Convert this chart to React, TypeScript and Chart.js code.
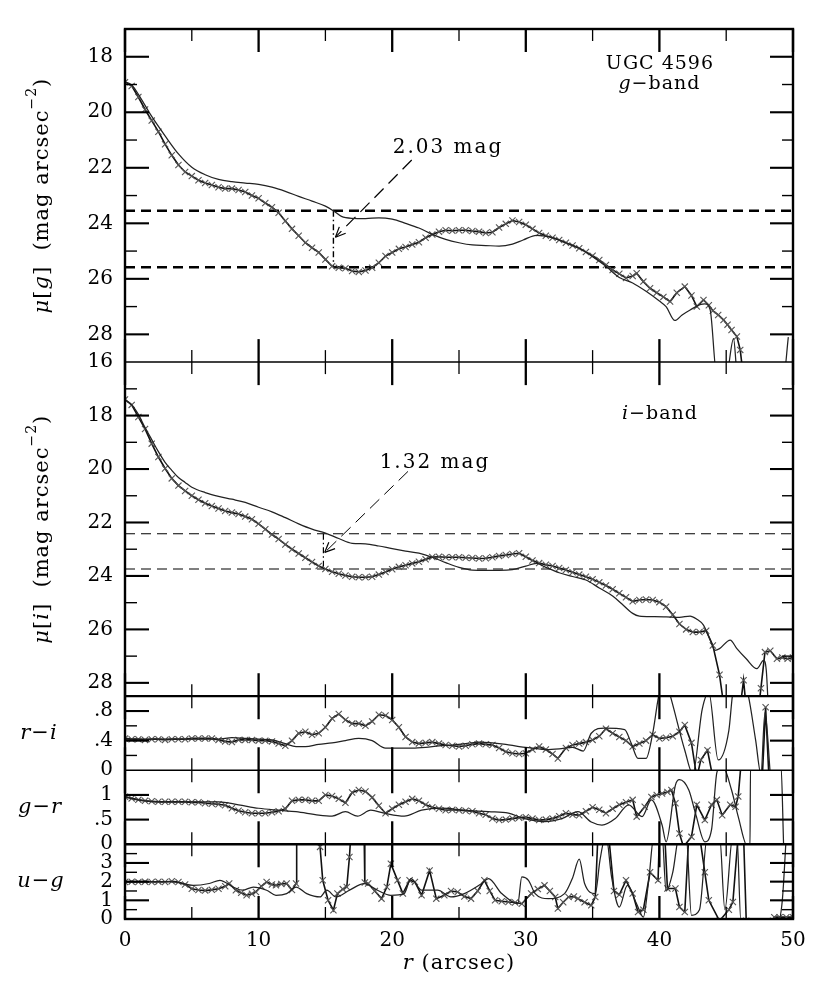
import React, { useEffect, useRef } from 'react';
import { Chart, registerables } from 'chart.js';

Chart.register(...registerables);

type Pt = [number, number];

const FONT = '"DejaVu Serif", "Liberation Serif", serif';

// ---------------- data (r in arcsec, value) ----------------
// g-band: model with crosses, and plain profile
const gCrossed: Pt[] = [[0,18.92],[0.5,19.05],[1,19.45],[1.5,19.9],[2,20.3],[2.5,20.7],[3,21.15],[3.5,21.55],[4,21.9],[4.5,22.15],[5,22.3],[5.5,22.45],[6,22.55],[6.5,22.62],[7,22.7],[7.5,22.75],[8,22.75],[8.5,22.8],[9,22.87],[9.5,23.0],[10,23.1],[10.5,23.27],[11,23.42],[11.5,23.62],[12,23.92],[12.5,24.2],[13,24.45],[13.5,24.7],[14,24.88],[14.5,25.05],[15,25.3],[15.5,25.55],[16,25.6],[16.5,25.62],[17,25.72],[17.5,25.75],[18,25.7],[18.5,25.6],[19,25.42],[19.5,25.18],[20,25.05],[20.5,24.92],[21,24.85],[21.5,24.76],[22,24.68],[22.5,24.52],[23,24.4],[23.5,24.3],[24,24.25],[24.5,24.27],[25,24.25],[25.5,24.25],[26,24.28],[26.5,24.3],[27,24.35],[27.5,24.32],[28,24.15],[28.5,24.02],[29,23.9],[29.5,23.95],[30,24.05],[30.5,24.2],[31,24.35],[31.5,24.45],[32,24.52],[32.5,24.6],[33,24.7],[33.5,24.8],[34,24.9],[34.5,25.03],[35,25.17],[35.5,25.32],[36,25.5],[36.5,25.68],[37,25.82],[37.5,25.97],[38,25.9],[38.3,25.8],[38.8,26.1],[39.3,26.34],[39.8,26.5],[40.3,26.65],[40.8,26.82],[41.3,26.5],[41.9,26.28],[42.4,26.6],[42.8,27.0],[43.3,26.76],[43.7,26.95],[44.0,27.15],[44.4,27.3],[44.8,27.48],[45.1,27.65],[45.4,27.84],[45.8,28.08],[46.05,28.56],[46.4,30]];
const gPlain: Pt[] = [[0,18.9],[0.5,19.02],[1,19.35],[1.5,19.75],[2,20.15],[3,20.85],[4,21.5],[5,21.98],[6,22.25],[7,22.42],[8,22.5],[9,22.55],[10,22.6],[11,22.7],[12,22.85],[13,23.03],[14,23.2],[15,23.38],[15.6,23.55],[16.2,23.75],[17,23.82],[18,23.83],[19,23.8],[20,23.85],[21,24.0],[22,24.17],[23,24.4],[24,24.58],[25,24.7],[26,24.78],[27,24.8],[28,24.82],[29,24.75],[29.8,24.6],[30.8,24.43],[31.8,24.49],[33,24.7],[34,24.9],[35,25.2],[36,25.55],[37,25.95],[38,26.15],[39,26.45],[40,26.8],[40.5,27.0],[41.16,27.5],[41.7,27.3],[42.3,27.12],[43.1,26.92],[43.4,26.9],[43.8,27.12],[44.3,29.5],[45.0,29.5],[45.55,28.15],[45.85,29.5],[49.3,29.5],[49.65,28.1]];

// i-band
const iCrossed: Pt[] = [[0,17.4],[0.5,17.6],[1,18.05],[1.5,18.5],[2,19.05],[2.5,19.55],[3,19.98],[3.5,20.35],[4,20.62],[4.5,20.82],[5,21.0],[5.5,21.15],[6,21.28],[6.5,21.38],[7,21.48],[7.5,21.57],[8,21.63],[8.5,21.68],[9,21.78],[9.5,21.88],[10,22.05],[10.5,22.25],[11,22.45],[11.5,22.62],[12,22.82],[12.5,23.0],[13,23.16],[13.5,23.32],[14,23.48],[14.5,23.63],[15,23.74],[15.5,23.84],[16,23.92],[16.5,23.98],[17,24.03],[17.5,24.05],[18,24.05],[18.5,24.03],[19,23.95],[19.5,23.85],[20,23.75],[20.5,23.66],[21,23.6],[21.5,23.53],[22,23.47],[22.5,23.38],[23,23.29],[23.5,23.28],[24,23.3],[24.5,23.3],[25,23.3],[25.5,23.32],[26,23.33],[26.5,23.35],[27,23.34],[27.5,23.3],[28,23.25],[28.5,23.22],[29,23.18],[29.5,23.15],[30,23.28],[30.5,23.42],[31,23.52],[31.5,23.58],[32,23.63],[32.5,23.7],[33,23.78],[33.5,23.86],[34,23.95],[34.5,24.03],[35,24.12],[35.5,24.24],[36,24.36],[36.5,24.5],[37,24.65],[37.5,24.8],[38,24.95],[38.5,24.9],[39,24.88],[39.5,24.9],[40,24.98],[40.5,25.15],[41,25.45],[41.5,25.8],[42,26.0],[42.5,26.1],[43,26.1],[43.5,26.05],[44,26.6],[44.5,27.7],[45,29.5],[45.9,29.5],[46.3,27.9],[46.6,29.5],[47.3,29.5],[47.6,28.2],[47.9,26.85],[48.3,26.8],[48.8,27.1],[49.2,27.05],[49.6,27.1],[50,27.05]];
const iPlain: Pt[] = [[0,17.4],[0.5,17.6],[1,17.95],[1.5,18.45],[2,18.9],[2.5,19.35],[3,19.75],[3.5,20.05],[4,20.32],[4.5,20.5],[5,20.68],[6,20.88],[7,21.02],[8,21.13],[9,21.25],[10,21.43],[11,21.6],[12,21.82],[13,22.05],[14,22.25],[15,22.4],[16,22.6],[17,22.78],[18,22.8],[19,22.88],[20,22.98],[21,23.07],[22,23.15],[23,23.3],[24,23.5],[25,23.68],[26,23.78],[27,23.79],[28,23.79],[29,23.76],[30,23.63],[30.8,23.53],[31.5,23.68],[32.5,23.88],[33.5,24.02],[34.5,24.15],[35.5,24.45],[36.5,24.75],[37.2,25.05],[38,25.4],[38.5,25.5],[39.5,25.52],[40.5,25.53],[41.5,25.55],[42.3,25.5],[42.8,25.62],[43.3,25.84],[43.8,26.4],[44.16,26.78],[44.5,26.72],[45.3,26.4],[45.8,26.72],[46.5,27.1],[47.3,27.47],[47.8,27.16],[48.0,27.53],[48.2,29.5]];

// r-i colour
const riCrossed: Pt[] = [[0,0.43],[0.5,0.42],[1,0.42],[1.5,0.41],[2,0.42],[2.5,0.42],[3,0.41],[3.5,0.42],[4,0.42],[4.5,0.42],[5,0.43],[5.5,0.43],[6,0.43],[6.5,0.43],[7,0.41],[7.5,0.39],[8,0.38],[8.5,0.41],[9,0.41],[9.5,0.41],[10,0.4],[10.5,0.4],[11,0.39],[11.5,0.36],[12,0.33],[12.5,0.4],[13,0.5],[13.5,0.52],[14,0.48],[14.5,0.5],[15,0.58],[15.5,0.7],[16,0.76],[16.5,0.68],[17,0.63],[17.5,0.63],[18,0.6],[18.5,0.66],[19,0.75],[19.5,0.74],[20,0.68],[20.5,0.58],[21,0.45],[21.5,0.38],[22,0.36],[22.5,0.37],[23,0.38],[23.5,0.36],[24,0.34],[24.5,0.33],[25,0.32],[25.5,0.33],[26,0.35],[26.5,0.36],[27,0.35],[27.5,0.34],[28,0.3],[28.5,0.25],[29,0.23],[29.5,0.22],[30,0.23],[30.5,0.28],[31,0.32],[31.5,0.28],[32,0.22],[32.4,0.16],[33,0.3],[33.5,0.34],[34,0.36],[34.5,0.38],[35,0.41],[35.5,0.46],[36,0.56],[36.5,0.5],[37,0.45],[37.5,0.4],[38,0.32],[38.5,0.36],[39,0.4],[39.5,0.48],[40,0.43],[40.5,0.44],[41,0.46],[41.5,0.52],[41.9,0.61],[42.4,0.37],[42.8,-0.1],[43.1,0.14],[43.6,0.27],[44,-0.1],[47.7,-0.1],[47.95,0.85],[48.2,-0.1]];
const riPlain: Pt[] = [[0,0.42],[2,0.42],[4,0.42],[6,0.42],[7,0.42],[8,0.44],[9,0.43],[10,0.42],[11,0.41],[12,0.36],[12.8,0.32],[13.5,0.32],[14.5,0.35],[15.5,0.37],[16.5,0.4],[17.5,0.43],[18.5,0.4],[19.5,0.3],[20.5,0.3],[21.5,0.3],[22.5,0.31],[23.5,0.33],[24.5,0.34],[25.5,0.36],[26.5,0.38],[27.5,0.37],[28.5,0.35],[29.5,0.32],[30.5,0.3],[31.5,0.28],[32.5,0.29],[33.5,0.31],[34.3,0.26],[34.9,0.5],[35.9,0.57],[37.4,0.55],[37.9,0.36],[38.4,0.16],[39.0,0.16],[39.5,0.5],[40.0,1.05],[40.5,1.2],[40.9,0.95],[41.9,0.27],[42.5,-0.05],[43.2,0.82],[43.7,1.05],[44.4,0.14],[45.2,0.54],[45.5,1.05],[46.0,1.2],[46.6,1.05],[47.2,0.41],[47.6,-0.05],[47.9,0.78],[48.3,-0.05]];

// g-r colour
const grCrossed: Pt[] = [[0,0.965],[0.5,0.93],[1,0.9],[1.5,0.88],[2,0.87],[2.5,0.86],[3,0.86],[3.5,0.86],[4,0.86],[4.5,0.86],[5,0.85],[5.5,0.85],[6,0.83],[6.5,0.82],[7,0.81],[7.5,0.79],[8,0.73],[8.5,0.68],[9,0.65],[9.5,0.63],[10,0.63],[10.5,0.63],[11,0.65],[11.5,0.67],[12,0.72],[12.5,0.88],[13,0.9],[13.5,0.9],[14,0.88],[14.5,0.88],[15,1.0],[15.5,0.98],[16,0.92],[16.5,0.84],[17,1.05],[17.5,1.1],[18,1.07],[18.5,0.95],[19,0.78],[19.5,0.63],[20,0.72],[20.5,0.8],[21,0.86],[21.5,0.92],[22,0.88],[22.5,0.8],[23,0.75],[23.5,0.72],[24,0.69],[24.5,0.7],[25,0.69],[25.5,0.68],[26,0.67],[26.5,0.63],[27,0.6],[27.5,0.52],[28,0.49],[28.5,0.5],[29,0.52],[29.5,0.54],[30,0.55],[30.5,0.52],[31,0.49],[31.5,0.5],[32,0.52],[32.5,0.57],[33,0.63],[33.5,0.6],[34,0.59],[34.5,0.67],[35,0.75],[35.5,0.7],[36,0.63],[36.5,0.72],[37,0.8],[37.5,0.85],[38,0.9],[38.3,0.56],[38.9,0.76],[39.4,0.96],[39.8,1.0],[40.2,1.03],[40.6,1.06],[40.9,1.1],[41.2,0.83],[41.5,0.22],[41.8,-0.05],[42.4,0.15],[42.8,0.8],[43.4,0.49],[43.9,0.8],[44.3,0.9],[44.7,0.59],[45.3,0.8],[45.7,0.76],[45.9,0.97],[46.1,1.6]];
const grPlain: Pt[] = [[0,0.965],[1,0.9],[2.5,0.86],[4,0.86],[5.5,0.86],[7,0.86],[8.5,0.8],[10,0.73],[11.5,0.69],[12.8,0.66],[14.5,0.59],[15.5,0.57],[16.5,0.66],[17.4,0.57],[18.4,0.69],[19.4,0.63],[20.9,0.57],[22.2,0.69],[23.7,0.73],[25.4,0.69],[27.2,0.66],[28.7,0.63],[29.9,0.52],[31.4,0.46],[32.7,0.52],[33.9,0.66],[34.9,0.45],[35.7,0.39],[36.7,0.52],[37.7,0.8],[38.7,0.56],[39.4,0.9],[40.2,0.39],[40.5,0.05],[41.2,1.2],[41.5,1.31],[42.2,1.1],[42.7,0.63],[43.4,0.05],[43.9,0.29],[44.3,1.45],[44.7,1.6],[45.4,1.1],[45.9,0.56],[46.6,-0.05],[46.78,-0.05],[46.82,1.6],[49.1,1.6],[49.3,-0.05]];

// u-g colour
const ugCrossed: Pt[] = [[0,1.98],[0.5,2.0],[1,1.98],[1.5,2.0],[2,1.98],[2.5,2.0],[3,1.98],[3.5,2.02],[4,1.98],[4.5,1.85],[5,1.62],[5.5,1.55],[6,1.52],[6.5,1.56],[7,1.62],[7.5,1.75],[7.8,1.9],[8.3,1.54],[8.7,1.4],[9.1,1.27],[9.5,1.35],[9.8,1.45],[10.2,1.75],[10.6,1.98],[11,1.85],[11.3,1.8],[11.7,1.88],[12.1,1.9],[12.5,1.55],[12.8,1.9],[12.85,4.5],[14.5,4.5],[14.6,3.86],[14.8,2.07],[15.2,1.0],[15.6,0.47],[15.9,1.36],[16.3,1.6],[16.6,1.71],[16.8,3.32],[16.9,4.5],[17.9,4.5],[17.95,1.95],[18.2,1.9],[18.7,1.5],[19.2,1.09],[19.6,1.71],[19.9,2.96],[20.4,2.07],[20.8,1.36],[21.3,2.07],[21.7,1.98],[22.2,1.27],[22.8,2.6],[23.3,1.09],[23.9,1.27],[24.4,1.5],[24.9,1.45],[25.4,1.2],[25.9,1.09],[26.4,1.5],[26.9,2.07],[27.3,1.5],[27.7,1.0],[28.2,0.95],[28.7,0.91],[29.2,0.88],[29.7,0.82],[30.4,1.36],[30.9,1.6],[31.4,1.8],[31.8,1.5],[32.2,1.18],[32.4,0.56],[32.8,0.9],[33.2,1.18],[33.6,1.2],[33.9,1.09],[34.4,0.9],[34.9,0.73],[35.2,1.18],[35.4,4.5],[36.2,4.5],[36.6,1.5],[37.0,1.3],[37.5,2.07],[38.0,1.36],[38.4,0.37],[38.8,0.5],[39.3,2.5],[39.9,2.07],[40.0,4.5],[40.4,4.5],[40.6,1.63],[41.2,1.63],[41.5,0.64],[41.9,0.37],[42.2,4.5],[43.0,4.5],[43.4,2.5],[43.7,1.0],[44.5,-0.1],[45.2,0.5],[45.5,0.91],[45.9,4.5],[46.3,4.5],[46.5,-0.1],[48.5,-0.1],[48.6,0.1],[49.0,0.1],[49.5,0.1],[50,0.1]];
const ugPlain: Pt[] = [[0,2.0],[1,2.0],[2,2.0],[3.3,2.0],[4,1.95],[5.1,1.8],[6.3,1.9],[7.1,2.07],[8.1,1.71],[8.8,1.54],[9.6,1.71],[10.6,1.54],[11.3,1.27],[12.1,1.36],[12.8,1.71],[13.6,1.36],[14.6,1.18],[15.1,1.54],[15.8,1.18],[16.8,1.54],[17.9,1.9],[18.9,1.54],[19.9,1.27],[20.9,1.36],[21.4,2.16],[22.2,1.54],[23.4,1.54],[24.4,1.18],[25.4,1.36],[26.7,1.9],[27.2,2.16],[28.2,1.36],[29.4,0.82],[29.7,2.25],[30.2,2.07],[30.7,1.36],[31.7,1.09],[32.9,1.36],[33.5,2.2],[34.0,3.2],[34.4,1.9],[35.2,1.36],[35.55,3.14],[36.0,4.5],[36.42,2.25],[37.0,0.64],[37.6,1.8],[38.3,0.8],[38.8,0.1],[39.2,2.07],[39.6,4.5],[40.2,4.5],[40.5,1.5],[41.0,2.5],[41.5,4.5],[42.0,4.5],[42.4,0.2],[43.0,0.5],[43.6,4.5],[44.5,4.5],[44.9,0.5],[45.5,4.5],[45.8,4.5],[46.1,-0.1],[48.9,-0.1],[49.2,1.0],[49.5,4.5]];

// annotation levels
const gLevels = [23.55, 25.58];
const gDropR = 15.6;
const gLeader: Pt[] = [[21.46, 21.72], [15.75, 24.5]];
const iLevels = [22.42, 23.74];
const iDropR = 14.85;
const iLeader: Pt[] = [[21.18, 20.09], [14.95, 23.12]];

// ticks
const xLabelTicks = [0, 10, 20, 30, 40, 50];
const xMinorTicks = [5, 15, 25, 35, 45];
const gLabelTicks = [18, 20, 22, 24, 26, 28];
const gMinorTicks = [19, 21, 23, 25, 27];
const iLabelTicks = [16, 18, 20, 22, 24, 26, 28];
const iMinorTicks = [17, 19, 21, 23, 25, 27];
const riLabelTicks = [0, 0.4, 0.8];
const riLabelText = ['0', '.4', '.8'];
const riMinorTicks = [0.2, 0.6];
const grLabelTicks = [0, 0.5, 1];
const grLabelText = ['0', '.5', '1'];
const grMinorTicks: number[] = [];
const ugLabelTicks = [0, 1, 2, 3];
const ugLabelText = ['0', '1', '2', '3'];
const ugMinorTicks = [0.5, 1.5, 2.5, 3.5];

const toXY = (a: Pt[]) => a.map(([x, y]) => ({ x, y }));

type Run = { t: string; it?: boolean; sup?: boolean };

function drawRuns(ctx: CanvasRenderingContext2D, runs: Run[], x: number, y: number, size: number, align: 'left' | 'center', spacing = 0) {
  const fontOf = (r: Run) => `${r.it ? 'italic ' : ''}${r.sup ? Math.round(size * 0.68) : size}px ${FONT}`;
  (ctx as any).letterSpacing = spacing + 'px';
  const widths = runs.map((r) => {
    ctx.font = fontOf(r);
    return ctx.measureText(r.t).width;
  });
  const total = widths.reduce((a, b) => a + b, 0);
  let cx = align === 'center' ? x - total / 2 : x;
  ctx.textAlign = 'left';
  ctx.textBaseline = 'middle';
  runs.forEach((r, i) => {
    ctx.font = fontOf(r);
    ctx.fillText(r.t, cx, r.sup ? y - size * 0.5 : y);
    cx += widths[i];
  });
  (ctx as any).letterSpacing = '0px';
}

const panelDefs = [
  { id: 'yG', major: gLabelTicks, minor: gMinorTicks },
  { id: 'yI', major: iLabelTicks, minor: iMinorTicks },
  { id: 'yRI', major: riLabelTicks, minor: riMinorTicks },
  { id: 'yGR', major: grLabelTicks, minor: grMinorTicks },
  { id: 'yUG', major: ugLabelTicks, minor: ugMinorTicks },
];

const panelPlugin = {
  id: 'panelPlugin',
  beforeDatasetDraw(chart: any, args: any) {
    const ds = chart.data.datasets[args.index];
    const s = chart.scales[ds.yAxisID];
    const { ctx, chartArea } = chart;
    ctx.save();
    ctx.beginPath();
    ctx.rect(chartArea.left, s.top, chartArea.right - chartArea.left, s.bottom - s.top);
    ctx.clip();
  },
  afterDatasetDraw(chart: any) {
    chart.ctx.restore();
  },
  afterDatasetsDraw(chart: any) {
    const { ctx, chartArea } = chart;
    const xs = chart.scales.x;
    const L = chartArea.left;
    const R = chartArea.right;
    ctx.save();
    ctx.strokeStyle = '#000';
    ctx.lineCap = 'butt';
    const line = (x1: number, y1: number, x2: number, y2: number, w: number) => {
      ctx.lineWidth = w;
      ctx.beginPath();
      ctx.moveTo(x1, y1);
      ctx.lineTo(x2, y2);
      ctx.stroke();
    };
    panelDefs.forEach((p, idx) => {
      const s = chart.scales[p.id];
      const T = s.top;
      const B = s.bottom;
      xLabelTicks.forEach((v) => {
        const px = xs.getPixelForValue(v);
        line(px, T, px, T + 23, 2.3);
        line(px, B, px, B - 23, 2.3);
      });
      xMinorTicks.forEach((v) => {
        const px = xs.getPixelForValue(v);
        line(px, T, px, T + 12, 1.3);
        line(px, B, px, B - 12, 1.3);
      });
      p.major.forEach((v) => {
        const py = s.getPixelForValue(v);
        if (py <= T + 1 || py >= B - 1) return;
        line(L, py, L + 24, py, 2.1);
        line(R, py, R - 23, py, 2.1);
      });
      p.minor.forEach((v) => {
        const py = s.getPixelForValue(v);
        line(L, py, L + 12, py, 1.4);
        line(R, py, R - 11, py, 1.4);
      });
      if (idx > 0) line(L, T, R, T, idx === 2 || idx === 4 ? 2.3 : 1.5);
    });
    const top = chart.scales.yG.top;
    const bottom = chart.scales.yUG.bottom;
    ctx.lineWidth = 2.4;
    ctx.strokeRect(L, top, R - L, bottom - top);

    const arrow = (seg: Pt[], id: string) => {
      const s = chart.scales[id];
      const x0 = xs.getPixelForValue(seg[0][0]);
      const y0 = s.getPixelForValue(seg[0][1]);
      const x1 = xs.getPixelForValue(seg[1][0]);
      const y1 = s.getPixelForValue(seg[1][1]);
      const a = Math.atan2(y0 - y1, x0 - x1);
      const len = 11;
      [0.42, -0.42].forEach((d) => {
        line(x1, y1, x1 + len * Math.cos(a + d), y1 + len * Math.sin(a + d), 1.2);
      });
    };
    arrow(gLeader, 'yG');
    arrow(iLeader, 'yI');

    ctx.fillStyle = '#000';
    const yG = chart.scales.yG;
    const yI = chart.scales.yI;
    drawRuns(ctx, [{ t: 'UGC 4596' }], xs.getPixelForValue(40.04), yG.getPixelForValue(18.25), 19, 'center', 1);
    drawRuns(ctx, [{ t: 'g', it: true }, { t: '\u2212band' }], xs.getPixelForValue(40.0), yG.getPixelForValue(19.0), 19, 'center', 1);
    drawRuns(ctx, [{ t: 'i', it: true }, { t: '\u2212band' }], xs.getPixelForValue(40.04), yI.getPixelForValue(17.96), 19, 'center', 1);
    drawRuns(ctx, [{ t: '2.03 mag' }], xs.getPixelForValue(20.04), yG.getPixelForValue(21.29), 20, 'left', 2);
    drawRuns(ctx, [{ t: '1.32 mag' }], xs.getPixelForValue(19.06), yI.getPixelForValue(19.77), 20, 'left', 2);

    const rot = (runs: Run[], cx: number, cy: number) => {
      ctx.save();
      ctx.translate(cx, cy);
      ctx.rotate(-Math.PI / 2);
      drawRuns(ctx, runs, 0, 0, 21, 'center', 1);
      ctx.restore();
    };
    rot([{ t: '\u03bc', it: true }, { t: '[' }, { t: 'g', it: true }, { t: ']  (mag arcsec' }, { t: '\u22122', sup: true }, { t: ')' }], 43, (yG.top + yG.bottom) / 2);
    rot([{ t: '\u03bc', it: true }, { t: '[' }, { t: 'i', it: true }, { t: ']  (mag arcsec' }, { t: '\u22122', sup: true }, { t: ')' }], 43, (yI.top + yI.bottom) / 2);

    const mid = (id: string) => (chart.scales[id].top + chart.scales[id].bottom) / 2;
    drawRuns(ctx, [{ t: 'r', it: true }, { t: '\u2212' }, { t: 'i', it: true }], 39, mid('yRI'), 21, 'center', 1);
    drawRuns(ctx, [{ t: 'g', it: true }, { t: '\u2212' }, { t: 'r', it: true }], 40, mid('yGR'), 21, 'center', 1);
    drawRuns(ctx, [{ t: 'u', it: true }, { t: '\u2212' }, { t: 'g', it: true }], 41, mid('yUG'), 21, 'center', 1);

    drawRuns(ctx, [{ t: 'r', it: true }, { t: ' (arcsec)' }], (L + R) / 2, 964, 21, 'center', 1);
    ctx.restore();
  },
};

const crossedStyle = {
  borderColor: '#111',
  borderWidth: 1.6,
  pointStyle: 'crossRot',
  pointRadius: 4.4,
  pointBorderWidth: 1.1,
  pointBorderColor: '#555',
  pointBackgroundColor: '#555',
  tension: 0,
  fill: false,
};
const plainStyle = {
  borderColor: '#222',
  borderWidth: 1.25,
  pointRadius: 0,
  cubicInterpolationMode: 'monotone',
  fill: false,
};
const refLine = (pts: Pt[], id: string, w: number, dash: number[]) => ({
  data: toXY(pts),
  yAxisID: id,
  borderColor: '#000',
  borderWidth: w,
  borderDash: dash,
  pointRadius: 0,
  tension: 0,
  fill: false,
});

function yScale(id: string, weight: number, stackWeight: number, min: number, max: number, reverse: boolean, ticks: number[], labels?: string[]) {
  return {
    type: 'linear',
    position: 'left',
    stack: 'panels',
    stackWeight,
    weight,
    min,
    max,
    reverse,
    grid: { display: false, drawTicks: false },
    border: { display: false },
    ticks: {
      autoSkip: false,
      padding: 12,
      color: '#000',
      font: { family: FONT, size: 20 },
      callback: (v: number) => {
        const k = ticks.indexOf(v);
        if (labels && k >= 0) return labels[k];
        return String(v);
      },
    },
    afterBuildTicks: (s: any) => {
      s.ticks = ticks.map((v) => ({ value: v }));
    },
    afterFit: (s: any) => {
      s.width = 125;
    },
  };
}

export default function App() {
  const ref = useRef<HTMLCanvasElement>(null);
  useEffect(() => {
    document.body.style.margin = '0';
    const canvas = ref.current as HTMLCanvasElement;
    const datasets: any[] = [
      { ...plainStyle, data: toXY(gPlain), yAxisID: 'yG' },
      { ...crossedStyle, data: toXY(gCrossed), yAxisID: 'yG' },
      refLine([[0, gLevels[0]], [50, gLevels[0]]], 'yG', 2.6, [10, 6]),
      refLine([[0, gLevels[1]], [50, gLevels[1]]], 'yG', 2.6, [10, 6]),
      refLine([[gDropR, gLevels[0]], [gDropR, gLevels[1]]], 'yG', 1.4, [6, 3, 1.5, 3]),
      refLine(gLeader, 'yG', 1.2, [13, 7]),
      { ...plainStyle, data: toXY(iPlain), yAxisID: 'yI' },
      { ...crossedStyle, data: toXY(iCrossed), yAxisID: 'yI' },
      refLine([[0, iLevels[0]], [50, iLevels[0]]], 'yI', 1.1, [10, 6]),
      refLine([[0, iLevels[1]], [50, iLevels[1]]], 'yI', 1.1, [10, 6]),
      refLine([[iDropR, iLevels[0]], [iDropR, iLevels[1]]], 'yI', 1.2, [6, 3, 1.5, 3]),
      refLine(iLeader, 'yI', 1.0, [13, 7]),
      { ...plainStyle, data: toXY(riPlain), yAxisID: 'yRI' },
      { ...crossedStyle, data: toXY(riCrossed), yAxisID: 'yRI' },
      { ...plainStyle, data: toXY(grPlain), yAxisID: 'yGR' },
      { ...crossedStyle, data: toXY(grCrossed), yAxisID: 'yGR' },
      { ...plainStyle, data: toXY(ugPlain), yAxisID: 'yUG' },
      { ...crossedStyle, data: toXY(ugCrossed), yAxisID: 'yUG' },
    ];
    const chart = new Chart(canvas, {
      type: 'line',
      data: { datasets },
      options: {
        animation: false,
        responsive: false,
        maintainAspectRatio: false,
        devicePixelRatio: 1,
        events: [],
        layout: { padding: { top: 29, right: 37, bottom: 30, left: 0 } },
        plugins: { legend: { display: false }, tooltip: { enabled: false } },
        scales: {
          x: {
            type: 'linear',
            min: 0,
            max: 50,
            position: 'bottom',
            grid: { display: false, drawTicks: false },
            border: { display: false },
            ticks: { autoSkip: false, padding: 10, color: '#000', font: { family: FONT, size: 20 }, maxRotation: 0 },
            afterBuildTicks: (s: any) => {
              s.ticks = xLabelTicks.map((v) => ({ value: v }));
            },
            afterFit: (s: any) => {
              s.height = 45;
            },
          },
          yG: yScale('yG', 5, 333, 17, 29, true, gLabelTicks),
          yI: yScale('yI', 4, 334, 16, 28.5, true, iLabelTicks),
          yRI: yScale('yRI', 3, 74, 0, 1, false, riLabelTicks, riLabelText),
          yGR: yScale('yGR', 2, 74, 0, 1.5, false, grLabelTicks, grLabelText),
          yUG: yScale('yUG', 1, 74.7, 0, 4, false, ugLabelTicks, ugLabelText),
        } as any,
      } as any,
      plugins: [panelPlugin as any],
    });
    return () => chart.destroy();
  }, []);
  return (
    <div style={{ position: 'absolute', left: 0, top: 0, width: 830, height: 994, background: '#fff' }}>
      <canvas ref={ref} width={830} height={994} style={{ width: 830, height: 994, display: 'block' }} />
    </div>
  );
}
